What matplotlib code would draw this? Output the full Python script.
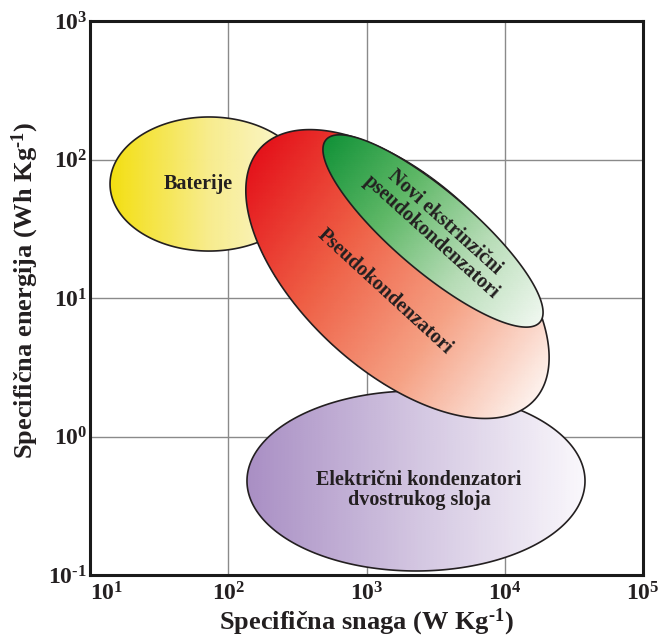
import numpy as np
import matplotlib
matplotlib.use('Agg')
import matplotlib.pyplot as plt
from matplotlib.patches import Polygon
from matplotlib.colors import LinearSegmentedColormap
from matplotlib.ticker import FixedLocator, FuncFormatter, NullLocator

plt.rcParams['font.family'] = ['Liberation Serif', 'DejaVu Serif']
plt.rcParams['mathtext.fontset'] = 'custom'
plt.rcParams['mathtext.rm'] = 'Liberation Serif:bold'
plt.rcParams['mathtext.bf'] = 'Liberation Serif:bold'
plt.rcParams['mathtext.it'] = 'Liberation Serif:bold:italic'

HY = '\u2010'  # short hyphen, as in the reference superscripts

# ---------------- data (log10 units of W/kg and Wh/kg) ----------------
region_names = ["Baterije", "Pseudokondenzatori",
                "Novi ekstrinzični\npseudokondenzatori",
                "Električni kondenzatori\ndvostrukog sloja"]
center_log_power = [1.861, 3.224, 3.481, 3.358]
center_log_energy = [1.823, 1.173, 1.484, -0.321]
width_decades = [1.432, 2.69, 2.032, 2.445]
height_decades = [0.968, 1.388, 0.578, 1.30]
tilt_deg = [0.0, -42.5, -40.4, 0.0]

label_log_power = [1.781, 3.134, 3.517, 3.380]
label_log_energy = [1.823, 1.043, 1.491, -0.386]
label_rotation = [0, -42.5, -42, 0]

x_ticks = [1e1, 1e2, 1e3, 1e4, 1e5]
y_ticks = [1e-1, 1e0, 1e1, 1e2, 1e3]
x_label = "Specifična snaga (W Kg$^{" + HY + "1}$)"
y_label = "Specifična energija (Wh Kg$^{" + HY + "1}$)"

# ---------------- styles ----------------
grad_colors = [
    ['#f3df12', '#f7ec8e', '#fcf8dc'],
    ['#e4131b', '#ee5f45', '#f5a184', '#fdf2ed'],
    ['#139339', '#5fb867', '#b6dcb6', '#f0f8f0'],
    ['#a98fc4', '#d3c6e1', '#faf8fc'],
]
grad_dir = [0, -35, -38, 0]
draw_order = [3, 0, 1, 2]
edge_color = '#231f20'

fig = plt.figure(figsize=(6.59, 6.43), dpi=100)
ax = fig.add_axes([90/659, 1-575/643, 553/659, 554/643])
ax.set_xscale('log')
ax.set_yscale('log')


def draw_region(i, z):
    cx, cy = center_log_power[i], center_log_energy[i]
    w, h = width_decades[i], height_decades[i]
    th = np.deg2rad(tilt_deg[i])
    t = np.linspace(0, 2*np.pi, 500)
    ex = cx + w/2*np.cos(t)*np.cos(th) - h/2*np.sin(t)*np.sin(th)
    ey = cy + w/2*np.cos(t)*np.sin(th) + h/2*np.sin(t)*np.cos(th)
    patch = Polygon(np.column_stack([10**ex, 10**ey]), closed=True,
                    fc='none', ec=edge_color, lw=1.2, zorder=z+1)
    ax.add_patch(patch)
    gx = np.linspace(ex.min(), ex.max(), 90)
    gy = np.linspace(ey.min(), ey.max(), 90)
    GX, GY = np.meshgrid(gx, gy)
    g = np.deg2rad(grad_dir[i])
    proj = GX*np.cos(g) + GY*np.sin(g)
    pe = ex*np.cos(g) + ey*np.sin(g)
    V = (proj - pe.min())/(pe.max() - pe.min())
    cmap = LinearSegmentedColormap.from_list('g%d' % i, grad_colors[i])
    mesh = ax.pcolormesh(10**GX, 10**GY, V, cmap=cmap, vmin=0, vmax=1,
                         shading='gouraud', zorder=z)
    mesh.set_clip_path(patch)


for k, i in enumerate(draw_order):
    draw_region(i, 2 + 2*k)

for i in range(len(region_names)):
    ax.text(10**label_log_power[i], 10**label_log_energy[i], region_names[i],
            ha='center', va='center', rotation=label_rotation[i],
            rotation_mode='anchor', fontsize=14.5, fontweight='bold',
            color=edge_color, linespacing=1.0, zorder=30)


def fmt_func(v, p):
    e = int(round(np.log10(v)))
    es = (HY + str(-e)) if e < 0 else str(e)
    return r'$\mathbf{10^{' + es + '}}$'


ax.set_xlim(x_ticks[0], x_ticks[-1])
ax.set_ylim(y_ticks[0], y_ticks[-1])
ax.xaxis.set_major_locator(FixedLocator(x_ticks))
ax.yaxis.set_major_locator(FixedLocator(y_ticks))
ax.xaxis.set_minor_locator(NullLocator())
ax.yaxis.set_minor_locator(NullLocator())
ax.xaxis.set_major_formatter(FuncFormatter(fmt_func))
ax.yaxis.set_major_formatter(FuncFormatter(fmt_func))
ax.tick_params(axis='both', length=0, labelsize=17, colors='#231f20')
ax.tick_params(axis='x', pad=5)
ax.tick_params(axis='y', pad=2)
ax.xaxis.get_major_ticks()[0].label1.set_horizontalalignment('left')

ax.grid(True, which='major', color='#8a8a8a', lw=1.0)
ax.set_axisbelow(True)
for s in ax.spines.values():
    s.set_linewidth(2.2)
    s.set_color('#1a1a1a')
    s.set_zorder(40)

ax.set_xlabel(x_label, fontsize=19, fontweight='bold', color='#231f20')
ax.set_ylabel(y_label, fontsize=19, fontweight='bold', color='#231f20')
ax.xaxis.set_label_coords(0.5, -0.058)
ax.yaxis.set_label_coords(-0.089, 0.514)

fig.savefig('out.png', dpi=100, facecolor='white')
